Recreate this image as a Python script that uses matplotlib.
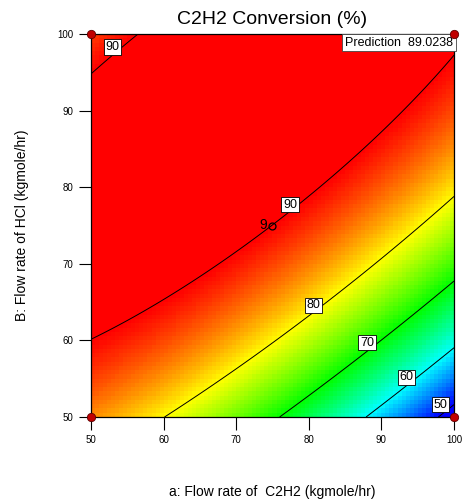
import numpy as np
import matplotlib
matplotlib.use('Agg')
import matplotlib.pyplot as plt
from matplotlib.colors import LinearSegmentedColormap

# quadratic response surface, coded units A=(a-75)/25, B=(b-75)/25
# terms: intercept, A, B, AB, A^2, B^2 (estimated from the picture's contours)
TERMS = ['1', 'A', 'B', 'AB', 'A2', 'B2']
COEFS = [89.963, -8.357, 11.543, 10.024, -4.703, -7.690]

LEVELS = [50, 60, 70, 80, 90]
# contour label boxes: text and where they sit (a, b)
LABEL_TEXT = ['90', '90', '80', '70', '60', '50']
LABEL_A = [53.0, 77.4, 80.6, 88.0, 93.5, 98.1]
LABEL_B = [98.3, 77.7, 64.6, 59.7, 55.2, 51.6]

# design points
CORNERS_A = [50, 50, 100, 100]
CORNERS_B = [50, 100, 100, 50]
CENTER_A, CENTER_B, CENTER_N = 75, 75, 9

TICKS = [50, 60, 70, 80, 90, 100]
PREDICTION = '89.0238'

FONT = ['Liberation Sans', 'DejaVu Sans']
plt.rcParams['font.family'] = FONT


def predict(a, b):
    A = (a - 75) / 25
    B = (b - 75) / 25
    c = dict(zip(TERMS, COEFS))
    return c['1'] + c['A'] * A + c['B'] * B + c['AB'] * A * B + c['A2'] * A**2 + c['B2'] * B**2


cmap = LinearSegmentedColormap.from_list(
    'de', ['#0000ff', '#00ffff', '#00ff00', '#ffff00', '#ff0000'])

fig = plt.figure(figsize=(4.66, 5.03), dpi=100)
ax = fig.add_axes([91 / 466, 1 - 417 / 503, 363 / 466, 383 / 503])

# blocky colour fill like the original
edges = np.linspace(50, 100, 91)
mids = (edges[:-1] + edges[1:]) / 2
ga, gb = np.meshgrid(mids, mids)
ax.pcolormesh(edges, edges, predict(ga, gb), cmap=cmap, vmin=50, vmax=90, shading='flat')

fa, fb = np.meshgrid(np.linspace(50, 100, 301), np.linspace(50, 100, 301))
ax.contour(fa, fb, predict(fa, fb), levels=LEVELS, colors='black', linewidths=0.7)
for txt, a, b in zip(LABEL_TEXT, LABEL_A, LABEL_B):
    ax.text(a, b, txt, ha='center', va='center', fontsize=9, zorder=4,
            bbox=dict(facecolor='white', edgecolor='black', pad=1.2, linewidth=0.6))

ax.plot(CORNERS_A, CORNERS_B, 'o', ms=6, mfc='#c00000', mec='#600000', mew=0.6,
        clip_on=False, zorder=5)
ax.plot([CENTER_A], [CENTER_B], 'o', ms=5, mfc='none', mec='black', mew=0.9, zorder=5)
ax.text(CENTER_A - 0.7, CENTER_B, str(CENTER_N), ha='right', va='center', fontsize=10)

ax.text(0.997, 0.993, f'Prediction  {PREDICTION}', transform=ax.transAxes, ha='right', va='top',
        fontsize=9, bbox=dict(facecolor='white', edgecolor='#444444', pad=2, linewidth=0.6))

ax.set_xlim(50, 100)
ax.set_ylim(50, 100)
ax.set_xticks(TICKS)
ax.set_yticks(TICKS)
ax.tick_params(direction='out', length=9, width=0.8, labelsize=7, pad=4, colors='black')
for s in ax.spines.values():
    s.set_linewidth(0.9)

ax.set_title('C2H2 Conversion (%)', fontsize=14, pad=7)
ax.set_xlabel('a: Flow rate of  C2H2 (kgmole/hr)', fontsize=10, labelpad=29)
ax.set_ylabel('B: Flow rate of HCl (kgmole/hr)', fontsize=10, labelpad=20)

fig.savefig('out.png', dpi=100)
